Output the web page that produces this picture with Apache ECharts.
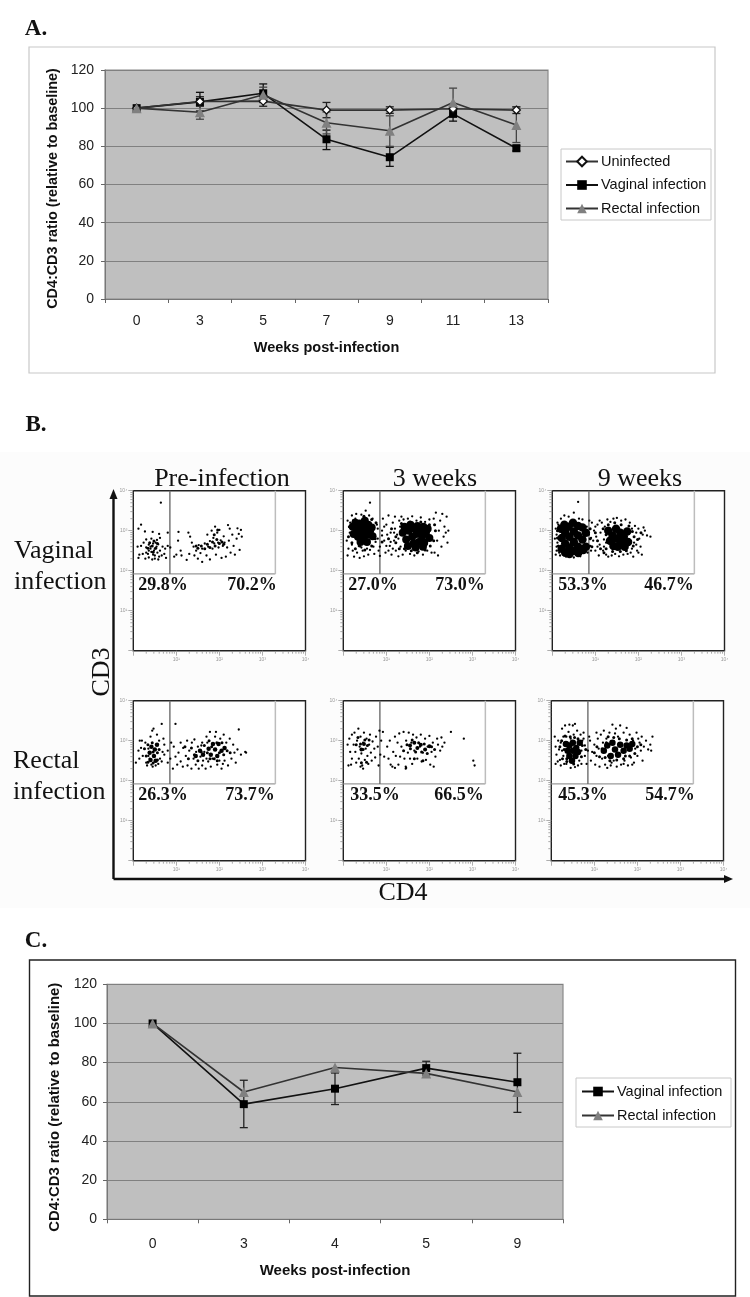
<!DOCTYPE html>
<html><head><meta charset="utf-8">
<script src="https://cdn.jsdelivr.net/npm/echarts@6/dist/echarts.min.js"></script>
<style>html,body{margin:0;padding:0;background:#fff}#c{width:750px;height:1297px;filter:blur(.45px)}</style></head>
<body><div id="c"></div>
<script>
// Panel A
const aWeeks=['0','3','5','7','9','11','13'];
const aUninfected=[100,103.5,103.7,99,99,99.7,99];
const aUninfectedLow=[100,101,101,95,97.3,99,97.2];
const aUninfectedHigh=[100,106,106.3,103,100.7,100.5,100.8];
const aVaginal=[100,103.3,107.8,83.7,74.3,97,79];
const aVaginalLow=[100,98.5,103,78.3,69.5,93.2,77.6];
const aVaginalHigh=[100,108.3,112.7,88.5,79.5,99.5,80.5];
const aRectal=[100,97.9,107,92.4,88.2,103,91.2];
const aRectalLow=[100,94.2,103,86.5,80,96,82];
const aRectalHigh=[100,101.5,111,98,96,110.5,100.5];
// Panel C
const cWeeks=['0','3','4','5','9'];
const cVaginal=[100,58.8,66.7,77.2,70];
const cVaginalLow=[100,46.8,58.6,73.7,54.6];
const cVaginalHigh=[100,71,74.7,80.7,84.8];
const cRectal=[100,65,77.5,74.5,65];
const yTicks=[0,20,40,60,80,100,120];
// Panel B: log10 CD4, log10 CD3
const gateRight=3.3, gateDivider=0.85, gateFloor=1.92;
const logDecades=['10⁰','10¹','10²','10³','10⁴'];
const logMinorSteps=[2,3,4,5,6,7,8,9];
const p1Sparse=[[.64,3.7],[.18,3.15],[.12,3.05],[.27,2.98],[.45,2.97],[.6,2.92],[.8,2.95],[.3,2.78],[.42,2.8],[.55,2.77],[.62,2.82],[.1,2.6],[.18,2.62],[.24,2.7],[.3,2.58],[.36,2.65],[.4,2.6],[.46,2.68],[.5,2.55],[.54,2.6],[.58,2.66],[.62,2.5],[.68,2.6],[.74,2.55],[.8,2.62],[.86,2.58],[.14,2.4],[.22,2.42],[.3,2.45],[.36,2.5],[.42,2.47],[.46,2.4],[.5,2.38],[.56,2.45],[.6,2.35],[.66,2.38],[.72,2.42],[.12,2.32],[.28,2.3],[.36,2.33],[.44,2.28],[.5,2.3],[.58,2.28],[.76,2.32],[.4,2.55],[.48,2.5],[.52,2.7],[.34,2.42],[1.05,2.97],[1.04,2.75],[1.1,2.5],[1.12,2.38],[1.0,2.4],[.95,2.35],[1.24,2.27],[1.3,2.42],[1.32,2.85],[1.28,2.95],[1.36,2.7],[1.4,2.6],[1.42,2.38],[1.46,2.5],[1.5,2.3],[1.52,2.64],[1.56,2.44],[1.6,2.55],[1.6,2.22],[1.66,2.68],[1.7,2.38],[1.72,2.9],[1.74,2.6],[1.78,2.28],[1.78,2.74],[1.82,3.0],[1.84,2.55],[1.86,2.82],[1.88,2.68],[1.9,3.1],[1.92,2.4],[1.95,2.95],[1.97,2.7],[1.98,2.58],[2.0,3.02],[2.03,2.76],[2.05,2.32],[2.08,2.62],[2.1,2.86],[2.12,2.7],[2.15,2.35],[2.18,2.58],[2.2,3.14],[2.22,2.75],[2.24,3.05],[2.26,2.45],[2.3,2.9],[2.33,2.62],[2.36,2.4],[2.4,2.8],[2.42,3.06],[2.45,2.92],[2.47,2.52],[2.5,3.02],[2.52,2.85]];
const p1Mid=[[.38,2.7],[.44,2.62],[.48,2.74],[.52,2.56],[.56,2.68],[.34,2.56],[.46,2.46],[1.72,2.66],[1.78,2.58],[1.84,2.72],[1.9,2.62],[1.94,2.78],[2.0,2.68],[2.06,2.72],[1.88,2.9],[1.96,3.02],[2.1,2.66],[1.66,2.55],[1.58,2.62],[1.46,2.62],[1.5,2.56]];
const p2Sparse=[[.62,3.7],[.1,3.25],[.15,2.95],[.08,2.75],[.12,2.55],[.1,2.38],[.2,3.38],[.22,2.5],[.25,2.35],[.3,3.42],[.32,2.45],[.38,2.32],[.42,3.4],[.45,2.5],[.48,2.36],[.52,3.5],[.55,2.55],[.58,2.4],[.6,3.38],[.68,3.3],[.7,2.6],[.72,2.42],[.78,3.15],[.8,2.8],[.82,2.5],[.85,2.37],[.9,3.0],[.92,3.3],[.95,2.75],[.98,2.45],[1.0,3.15],[1.02,2.9],[1.05,3.38],[1.08,2.62],[1.1,2.95],[1.12,2.4],[1.15,3.2],[1.18,2.75],[1.2,3.35],[1.22,2.5],[1.25,2.9],[1.28,2.36],[1.3,3.25],[1.33,2.6],[1.35,3.35],[1.38,2.4],[2.1,3.3],[2.12,2.45],[2.15,3.45],[2.18,2.75],[2.2,2.38],[2.22,3.0],[2.25,3.25],[2.28,2.6],[2.3,3.42],[2.33,2.85],[2.35,3.1],[2.38,2.95],[2.4,3.35],[2.42,2.7],[2.44,3.0],[.16,3.2],[.2,2.65],[.28,3.3],[.36,2.62],[.42,2.58],[.62,2.52],[.75,2.72],[.8,3.05],[.95,3.1],[1.05,2.5],[1.1,2.72],[1.2,3.05],[1.28,2.8],[1.32,3.1],[1.4,3.28],[1.45,2.5],[1.5,3.3],[1.55,2.42],[1.6,3.36],[1.65,2.38],[1.7,3.25],[1.75,2.48],[1.8,3.33],[1.85,2.4],[1.9,3.22],[1.95,2.5],[2.0,3.28],[2.05,2.45],[.85,2.6],[.9,2.88],[1.0,2.62],[1.15,2.55],[1.18,2.95]];
const p2Mid=[[.14,3.1],[.12,2.85],[.2,2.7],[.28,2.55],[.38,2.62],[.5,2.52],[.66,2.62],[.74,2.8],[.76,3.2],[.66,3.28],[.48,3.36],[.24,3.26],[.9,2.72],[1.05,2.8],[1.12,3.05],[1.22,2.7],[1.3,2.55],[1.42,2.55],[1.58,2.5],[1.72,2.45],[1.9,2.52],[2.02,2.62],[2.1,2.75],[2.14,3.0],[2.12,3.15],[2.0,3.15],[1.8,3.22],[1.55,3.22],[1.35,3.18],[1.22,2.85]];
const p2Dense=[[.22,3.1],[.24,2.92],[.28,3.2],[.32,3.02],[.34,2.85],[.38,3.18],[.42,2.98],[.44,3.12],[.46,2.82],[.5,3.25],[.52,3.05],[.55,2.9],[.58,3.15],[.62,2.98],[.66,3.08],[.68,2.86],[.4,2.72],[.55,2.72],[1.38,2.95],[1.42,3.1],[1.46,2.78],[1.5,2.62],[1.52,3.0],[1.56,3.15],[1.6,2.85],[1.63,2.68],[1.66,3.05],[1.7,2.92],[1.72,3.12],[1.75,2.72],[1.8,3.0],[1.83,2.85],[1.86,3.1],[1.88,2.7],[1.92,2.95],[1.96,3.05],[2.0,2.82],[1.68,2.58],[1.85,2.6]];
const p3Sparse=[[.6,3.72],[.08,3.05],[.06,2.8],[.1,2.6],[.08,2.4],[.2,3.3],[.28,3.38],[.38,3.35],[.5,3.45],[.62,3.3],[.7,3.28],[.14,3.15],[.12,2.7],[.14,2.5],[.18,2.38],[.32,2.35],[.5,2.33],[.65,2.36],[.8,3.1],[.85,2.9],[.82,2.45],[.88,2.62],[.92,3.2],[.95,2.75],[.97,3.0],[1.0,2.5],[1.02,2.85],[1.05,3.15],[1.08,2.38],[1.1,2.65],[1.12,2.95],[1.15,3.2],[1.18,2.5],[1.2,2.78],[1.22,3.1],[1.25,2.4],[1.28,3.28],[1.3,2.35],[1.35,3.22],[1.38,2.38],[1.42,3.3],[1.46,2.42],[1.5,3.32],[1.55,2.36],[1.6,3.25],[1.65,2.4],[1.7,3.28],[1.75,2.42],[1.8,3.2],[1.82,2.45],[1.85,3.05],[1.88,2.35],[1.9,2.7],[1.92,3.12],[1.95,2.95],[1.97,2.5],[2.0,3.05],[2.02,2.8],[2.05,2.6],[2.08,2.4],[2.1,2.9],[2.12,3.08],[2.15,3.0],[2.2,2.88],[2.28,2.85],[.9,2.5],[1.0,3.1],[1.1,3.25],[1.2,2.6],[1.3,2.95],[1.25,2.7],[.1,2.9],[.12,3.2],[.16,2.45],[.86,3.25],[.1,2.5],[1.85,2.55],[1.95,2.65],[2.0,2.45],[.9,2.82],[1.05,2.6]];
const p3Mid=[[.12,3.0],[.12,2.82],[.14,2.62],[.16,3.1],[.88,3.05],[.88,2.8],[.92,2.6],[1.0,2.95],[1.05,2.75],[1.12,2.55],[1.18,3.05],[1.2,2.45],[1.25,2.9],[1.3,3.15],[1.45,3.2],[1.6,3.15],[1.78,3.12],[1.25,2.55],[1.4,2.48],[1.58,2.48],[1.72,2.5],[1.88,2.62],[1.9,2.85],[1.98,2.78],[2.06,2.95],[1.86,2.98]];
const p3Dense=[[.2,3.05],[.22,2.82],[.22,2.55],[.28,3.15],[.3,2.95],[.3,2.68],[.3,2.45],[.38,3.1],[.4,2.85],[.4,2.58],[.4,2.42],[.48,3.2],[.5,2.98],[.5,2.72],[.5,2.5],[.6,3.12],[.6,2.88],[.6,2.6],[.6,2.44],[.7,3.08],[.7,2.78],[.72,2.52],[.78,2.95],[.78,2.6],[1.3,3.0],[1.34,2.75],[1.4,2.88],[1.42,2.62],[1.48,3.05],[1.5,2.8],[1.52,2.6],[1.58,2.95],[1.6,2.72],[1.66,2.85],[1.68,2.6],[1.74,2.98],[1.76,2.72]];
const p4Sparse=[[.66,3.42],[.47,3.3],[.44,3.25],[.98,3.42],[.4,3.1],[.55,3.15],[.6,3.0],[.7,3.05],[.15,3.0],[.2,3.0],[.12,2.75],[.18,2.82],[.14,2.55],[.22,2.62],[.06,2.45],[.28,2.95],[.3,2.45],[.32,2.38],[.35,2.8],[.42,2.4],[.45,2.35],[.52,2.38],[.58,2.42],[.62,2.55],[.66,2.48],[.72,2.65],[.72,2.9],[.8,2.45],[.8,2.75],[.86,2.55],[.88,2.95],[.92,2.3],[.94,2.85],[.98,2.6],[1.02,2.4],[1.05,2.7],[1.1,2.95],[1.1,2.48],[1.15,2.35],[1.16,2.82],[1.22,2.62],[1.25,3.0],[1.26,2.38],[1.3,2.75],[1.35,2.3],[1.36,2.95],[1.4,2.55],[1.42,3.03],[1.45,2.4],[1.46,2.72],[1.5,2.85],[1.52,2.3],[1.56,2.6],[1.6,2.95],[1.6,2.38],[1.65,2.72],[1.68,2.3],[1.7,3.1],[1.74,2.48],[1.78,3.22],[1.8,2.35],[1.84,2.55],[1.9,3.1],[1.92,3.22],[1.95,2.4],[2.02,3.05],[2.05,2.3],[2.1,3.15],[2.12,2.5],[2.16,2.95],[2.2,2.38],[2.24,3.05],[2.28,2.55],[2.32,2.9],[2.35,2.7],[2.38,2.45],[2.42,2.78],[2.45,3.28],[2.5,2.65],[2.6,2.72],[2.62,2.7],[.35,2.62],[.38,2.55],[.5,2.48],[.68,2.72],[1.58,2.88],[1.62,2.5],[1.7,2.55],[1.72,2.95],[2.0,2.5],[2.08,2.42]];
const p4Mid=[[.26,2.8],[.3,2.62],[.34,2.9],[.44,2.95],[.46,2.72],[.56,2.7],[.6,2.78],[.34,2.46],[.46,2.44],[.56,2.52],[1.2,2.85],[1.28,2.55],[1.35,2.82],[1.42,2.65],[1.5,2.5],[1.58,2.72],[1.65,2.88],[1.72,2.7],[1.78,2.55],[1.82,2.85],[1.88,2.55],[1.94,2.95],[2.0,2.7],[2.06,2.95],[2.1,2.65],[2.18,2.75],[2.25,2.7],[1.76,3.0],[1.95,2.5]];
const p4Dense=[[.38,2.7],[.42,2.85],[.48,2.62],[.5,2.78],[.55,2.9],[.4,2.52],[.52,2.5],[1.45,2.62],[1.55,2.75],[1.62,2.65],[1.75,2.8],[1.8,2.65],[1.85,2.92],[1.9,2.78],[1.95,2.62],[1.98,2.92],[2.05,2.75],[2.12,2.82]];
const p5Sparse=[[.1,2.9],[.14,3.05],[.16,2.72],[.2,3.15],[.2,2.55],[.18,2.4],[.24,2.9],[.26,3.2],[.28,2.72],[.3,2.45],[.32,3.0],[.35,3.3],[.36,2.55],[.38,2.85],[.4,3.1],[.42,2.68],[.44,2.38],[.46,2.95],[.48,3.2],[.5,2.52],[.52,2.8],[.54,3.05],[.56,2.62],[.58,2.42],[.6,2.9],[.62,3.15],[.64,2.7],[.66,2.5],[.68,2.98],[.72,2.8],[.74,2.58],[.76,3.1],[.8,2.85],[.82,2.38],[.84,3.25],[.86,2.65],[.88,3.0],[.92,3.22],[.95,2.6],[1.02,2.85],[1.05,2.55],[1.08,3.0],[1.1,2.4],[1.14,2.35],[1.16,2.72],[1.2,3.1],[1.22,2.62],[1.26,2.95],[1.28,2.4],[1.3,3.18],[1.32,2.6],[1.35,2.85],[1.4,3.22],[1.42,2.55],[1.45,2.35],[1.46,3.0],[1.5,2.7],[1.52,3.2],[1.55,2.55],[1.58,2.95],[1.6,2.42],[1.62,3.15],[1.65,2.75],[1.7,3.08],[1.72,2.55],[1.78,2.85],[1.8,3.15],[1.82,2.48],[1.85,2.7],[1.9,3.05],[1.92,2.52],[1.96,2.85],[2.0,3.12],[2.02,2.4],[2.05,2.72],[2.08,2.95],[2.1,2.35],[2.14,2.6],[2.18,3.05],[2.2,2.9],[2.25,2.75],[2.28,3.08],[2.3,2.85],[2.35,2.95],[2.5,3.22],[2.8,3.05],[3.02,2.5],[3.05,2.38],[.46,2.3],[.4,2.35],[.12,2.38],[1.45,2.3],[1.46,2.32],[1.2,2.32]];
const p5Mid=[[.3,2.9],[.34,3.08],[.4,2.92],[.46,2.78],[.5,3.02],[.56,2.88],[.6,3.02],[.42,2.45],[.54,2.46],[1.4,2.75],[1.48,2.9],[1.56,2.8],[1.6,3.02],[1.68,2.72],[1.75,2.95],[1.82,2.72],[1.88,2.92],[1.95,2.68],[2.05,2.85],[2.12,2.78],[1.65,2.55],[1.85,2.5]];
const p5Dense=[[.42,2.78],[.48,2.92],[1.55,2.88],[1.65,2.95],[1.72,2.82],[1.8,2.9],[1.9,2.78],[2.0,2.86]];
const p6Sparse=[[.08,3.1],[.1,2.85],[.12,2.65],[.1,2.42],[.16,3.0],[.18,2.78],[.2,2.52],[.22,2.38],[.25,3.3],[.28,3.1],[.28,2.62],[.32,3.38],[.34,2.88],[.35,2.42],[.4,3.22],[.42,3.4],[.45,3.05],[.5,3.38],[.52,3.15],[.55,3.42],[.6,3.25],[.62,2.38],[.68,3.15],[.7,2.42],[.72,3.0],[.78,2.62],[.78,2.88],[.82,2.42],[.85,2.75],[.9,3.0],[.92,2.5],[.95,2.72],[1.0,2.9],[1.02,2.4],[1.05,2.62],[1.08,3.05],[1.1,2.8],[1.12,2.35],[1.15,3.15],[1.18,2.55],[1.2,2.95],[1.22,3.25],[1.25,2.4],[1.28,3.05],[1.3,2.32],[1.35,3.2],[1.38,2.38],[1.42,3.4],[1.45,2.5],[1.48,3.18],[1.52,2.35],[1.55,3.1],[1.6,3.38],[1.62,2.4],[1.68,3.2],[1.7,2.5],[1.75,3.32],[1.78,2.38],[1.82,3.15],[1.85,2.58],[1.9,3.0],[1.92,2.45],[1.95,2.8],[1.98,3.2],[2.0,2.62],[2.05,2.95],[2.08,2.75],[2.1,3.1],[2.12,2.5],[2.15,2.85],[2.2,3.0],[2.25,2.78],[2.3,2.9],[2.32,2.75],[2.35,3.1],[.15,2.48],[.3,2.42],[.45,2.32],[.55,2.34],[.65,2.5],[.75,3.2],[.88,3.1],[1.05,3.2],[1.32,2.62],[1.4,2.45],[1.5,3.3],[1.68,2.42],[1.88,2.4],[2.02,3.05],[.25,2.75],[.22,2.95],[.35,3.1],[.7,2.75],[.75,3.05]];
const p6Mid=[[.2,2.85],[.24,3.0],[.26,2.55],[.3,2.78],[.32,3.12],[.36,2.55],[.44,3.1],[.54,3.08],[.62,3.05],[.7,2.6],[.72,2.88],[.8,2.78],[.36,2.48],[.52,2.42],[1.0,2.7],[1.06,2.85],[1.12,2.6],[1.18,2.8],[1.25,2.58],[1.28,2.95],[1.32,3.1],[1.36,2.5],[1.45,3.08],[1.52,2.52],[1.58,3.05],[1.68,2.55],[1.75,3.02],[1.82,2.62],[1.88,3.05],[1.94,2.68],[2.0,2.85],[2.08,2.9],[1.72,2.62]];
const p6Dense=[[.38,2.75],[.42,2.62],[.42,2.88],[.48,2.5],[.5,2.75],[.5,2.95],[.56,2.62],[.58,2.82],[.62,2.72],[.34,2.92],[.66,2.95],[1.22,2.75],[1.3,2.88],[1.38,2.62],[1.42,2.95],[1.48,2.78],[1.55,2.65],[1.6,2.9],[1.68,2.75],[1.75,2.88],[1.82,2.8],[1.88,2.92]];
const flowPanels=[
 {sparse:p1Sparse,mid:p1Mid,dense:[],denseSize:0,left:133.3,top:490.7,title:'Pre-infection',cx:222,pct:['29.8%','70.2%'],px:[163,252]},
 {sparse:p2Sparse,mid:p2Mid,dense:p2Dense,denseSize:8,left:343.3,top:490.7,title:'3 weeks',cx:435,pct:['27.0%','73.0%'],px:[373,460]},
 {sparse:p3Sparse,mid:p3Mid,dense:p3Dense,denseSize:8.5,left:552.3,top:490.7,title:'9 weeks',cx:640,pct:['53.3%','46.7%'],px:[583,669]},
 {sparse:p4Sparse,mid:p4Mid,dense:p4Dense,denseSize:4.5,left:133.3,top:700.7,pct:['26.3%','73.7%'],px:[163,250]},
 {sparse:p5Sparse,mid:p5Mid,dense:p5Dense,denseSize:4,left:343.3,top:700.7,pct:['33.5%','66.5%'],px:[375,459]},
 {sparse:p6Sparse,mid:p6Mid,dense:p6Dense,denseSize:6.5,left:551.3,top:700.7,pct:['45.3%','54.7%'],px:[583,670]}
];

const SANS='"Liberation Sans",Arial,sans-serif', SERIF='"Liberation Serif","Times New Roman",serif';
const grids=[],xAxes=[],yAxes=[],series=[],graphic=[];

function txt(text,x,y,font,align,rot){
  graphic.push({type:'text',x,y,rotation:rot||0,z:20,style:{text,font,fill:'#111',textAlign:align||'center',textVerticalAlign:'middle',verticalAlign:'middle'}});
}
function frame(x,y,w,h,stroke,lw){
  graphic.push({type:'rect',shape:{x,y,width:w,height:h},z:-1,style:{fill:'#fff',stroke,lineWidth:lw}});
}
function errorBars(gi,low,high,color){
  series.push({type:'custom',xAxisIndex:gi,yAxisIndex:gi,z:2,silent:true,clip:false,
    data:low.map((l,i)=>[i,l,high[i]]),encode:{x:0,y:[1,2]},
    renderItem(params,api){
      const a=api.coord([api.value(0),api.value(1)]),b=api.coord([api.value(0),api.value(2)]);
      const st={stroke:color,lineWidth:1.3,fill:'none'};
      if(Math.abs(a[1]-b[1])<0.5)return {type:'group',children:[]};
      return {type:'group',children:[
        {type:'line',shape:{x1:a[0],y1:a[1],x2:b[0],y2:b[1]},style:st},
        {type:'line',shape:{x1:a[0]-4,y1:a[1],x2:a[0]+4,y2:a[1]},style:st},
        {type:'line',shape:{x1:b[0]-4,y1:b[1],x2:b[0]+4,y2:b[1]},style:st}]};
    }});
}
const STY={
 'Uninfected':{symbol:'diamond',symbolSize:8,itemStyle:{color:'#fff',borderColor:'#111',borderWidth:1.3},lineStyle:{color:'#333',width:1.7}},
 'Vaginal infection':{symbol:'rect',symbolSize:8,itemStyle:{color:'#000'},lineStyle:{color:'#111',width:1.6}},
 'Rectal infection':{symbol:'triangle',symbolSize:10,itemStyle:{color:'#808080'},lineStyle:{color:'#333',width:1.6}}
};
function lineSeries(gi,name,data,z){
  series.push(Object.assign({type:'line',name,data,xAxisIndex:gi,yAxisIndex:gi,z,showSymbol:true,animation:false,silent:true},STY[name]));
}
function excelGrid(rect,cats,o){
  const gi=grids.length;
  grids.push(Object.assign({show:true,backgroundColor:'#bfbfbf',borderColor:'#8a8a8a',borderWidth:1.2},rect));
  xAxes.push({gridIndex:gi,type:'category',data:cats,boundaryGap:true,position:'bottom',
    name:'Weeks post-infection',nameLocation:'middle',nameGap:o.xGap,
    nameTextStyle:{fontFamily:SANS,fontWeight:'bold',fontSize:o.xNameSize,color:'#111'},
    axisLine:{lineStyle:{color:'#777',width:1}},axisTick:{show:true,alignWithLabel:false,length:4,lineStyle:{color:'#666'}},
    axisLabel:{fontFamily:SANS,fontSize:14,color:'#222',margin:o.xMargin,interval:0},splitLine:{show:false}});
  yAxes.push({gridIndex:gi,type:'value',min:yTicks[0],max:yTicks[yTicks.length-1],interval:20,
    name:'CD4:CD3 ratio (relative to baseline)',nameLocation:'middle',nameRotate:90,nameGap:o.yGap,
    nameTextStyle:{fontFamily:SANS,fontWeight:'bold',fontSize:o.yNameSize,color:'#111',padding:[0,o.yShift,0,0]},
    axisLine:{show:true,lineStyle:{color:'#777'}},axisTick:{show:true,length:4,lineStyle:{color:'#666'}},
    axisLabel:{fontFamily:SANS,fontSize:14,color:'#222',margin:o.yMargin},
    splitLine:{show:true,lineStyle:{color:'#808080',width:1}}});
  return gi;
}

// frames
graphic.push({type:'rect',shape:{x:0,y:452,width:750,height:456},z:-2,style:{fill:'#fcfcfc'}});
frame(29,47,686,326,'#c8c8c8',1.2);
frame(29.5,960,706,336,'#222',1.4);
frame(561,149,150,71,'#c8c8c8',1);
frame(576,1078,155,49,'#c8c8c8',1);

// panel A
const ga=excelGrid({left:105,top:70,width:443,height:229},aWeeks,{xGap:41,xNameSize:14.5,yGap:42,yNameSize:14.4,yShift:8,xMargin:15,yMargin:11});
errorBars(ga,aUninfectedLow,aUninfectedHigh,'#222');
errorBars(ga,aVaginalLow,aVaginalHigh,'#111');
errorBars(ga,aRectalLow,aRectalHigh,'#444');
lineSeries(ga,'Uninfected',aUninfected,5);
lineSeries(ga,'Vaginal infection',aVaginal,4);
lineSeries(ga,'Rectal infection',aRectal,6);

// panel C
const gc=excelGrid({left:107,top:984.3,width:456,height:235},cWeeks,{xGap:44,xNameSize:15,yGap:44,yNameSize:14.9,yShift:11,xMargin:18,yMargin:10});
errorBars(gc,cVaginalLow,cVaginalHigh,'#222');
lineSeries(gc,'Vaginal infection',cVaginal,4);
lineSeries(gc,'Rectal infection',cRectal,5);

// panel B
const minorLogs=[0,1,2,3].flatMap(d=>logMinorSteps.map(s=>d+Math.log10(s)));
flowPanels.forEach(p=>{
  const gi=grids.length;
  grids.push({show:true,backgroundColor:'#fff',borderColor:'#222',borderWidth:1.4,left:p.left,top:p.top,width:172.2,height:160});
  const ax=(extra)=>Object.assign({gridIndex:gi,type:'value',min:0,max:4,interval:1,
    axisLine:{show:false},axisTick:{show:true,length:5,lineStyle:{color:'#999',width:.8}},splitLine:{show:false},
    axisLabel:{fontSize:5,color:'#999',margin:6,fontFamily:SANS,formatter:(v)=>v===0?'':logDecades[v]}},extra);
  xAxes.push(ax({}));yAxes.push(ax({}));
  series.push({type:'custom',xAxisIndex:gi,yAxisIndex:gi,silent:true,clip:false,z:1,data:minorLogs.map(v=>[v]),encode:{x:0},
    renderItem(params,api){
      const v=api.value(0),a=api.coord([v,0]),b=api.coord([0,v]);
      const st={stroke:'#888',lineWidth:.7};
      return {type:'group',children:[
        {type:'line',shape:{x1:a[0],y1:a[1]+1,x2:a[0],y2:a[1]+3},style:st},
        {type:'line',shape:{x1:b[0]-3,y1:b[1],x2:b[0],y2:b[1]},style:st}]};
    }});
  const gate=(data,color,w)=>series.push({type:'line',data,xAxisIndex:gi,yAxisIndex:gi,symbol:'none',silent:true,z:3,animation:false,lineStyle:{color,width:w}});
  gate([[0,gateFloor],[gateRight,gateFloor]],'#9a9a9a',1.4);
  gate([[gateRight,gateFloor],[gateRight,4]],'#bdbdbd',1.5);
  gate([[gateDivider,gateFloor],[gateDivider,4]],'#6e6e6e',1.4);
  const dots=(data,size)=>series.push({type:'scatter',data,xAxisIndex:gi,yAxisIndex:gi,symbolSize:size,silent:true,z:4,animation:false,itemStyle:{color:'#000',opacity:1}});
  dots(p.sparse,2.3);
  dots(p.mid,3);
  if(p.dense.length)dots(p.dense,p.denseSize);
  txt(p.pct[0],p.px[0],p.top+95,'bold 18px '+SERIF);
  txt(p.pct[1],p.px[1],p.top+95,'bold 18px '+SERIF);
  if(p.title)txt(p.title,p.cx,479,'26px '+SERIF);
});

// labels
txt('A.',36,29,'bold 23px '+SERIF);
txt('B.',36,425,'bold 23px '+SERIF);
txt('C.',36,941,'bold 23px '+SERIF);
txt('Vaginal',14,551,'26px '+SERIF,'left');
txt('infection',14,582,'26px '+SERIF,'left');
txt('Rectal',13,761,'26px '+SERIF,'left');
txt('infection',13,792,'26px '+SERIF,'left');
txt('CD3',102,672,'26px '+SERIF,'center',Math.PI/2);
txt('CD4',403,893,'26px '+SERIF);
// big axes
const axS={stroke:'#111',lineWidth:2.4};
graphic.push({type:'line',shape:{x1:113.5,y1:497,x2:113.5,y2:879},style:axS,z:5});
graphic.push({type:'line',shape:{x1:113.5,y1:879,x2:726,y2:879},style:axS,z:5});
graphic.push({type:'polygon',shape:{points:[[113.5,489],[109.5,499],[117.5,499]]},style:{fill:'#111'},z:5});
graphic.push({type:'polygon',shape:{points:[[733,879],[724,875],[724,883]]},style:{fill:'#111'},z:5});

const legendBase={orient:'vertical',itemWidth:32,itemHeight:12,padding:0,selectedMode:false,
  textStyle:{fontFamily:SANS,fontSize:14.5,color:'#111',padding:[0,0,0,-2]}};
const legends=[
 Object.assign({},legendBase,{left:565,top:154,itemGap:8.5,data:['Uninfected','Vaginal infection','Rectal infection']}),
 Object.assign({},legendBase,{left:581,top:1084,itemGap:9,data:['Vaginal infection','Rectal infection']})
];
const chart=echarts.init(document.getElementById('c'),null,{renderer:'canvas'});
chart.setOption({animation:false,backgroundColor:'#fff',grid:grids,xAxis:xAxes,yAxis:yAxes,series,graphic:{elements:graphic},legend:legends,tooltip:{show:false}});
</script></body></html>
